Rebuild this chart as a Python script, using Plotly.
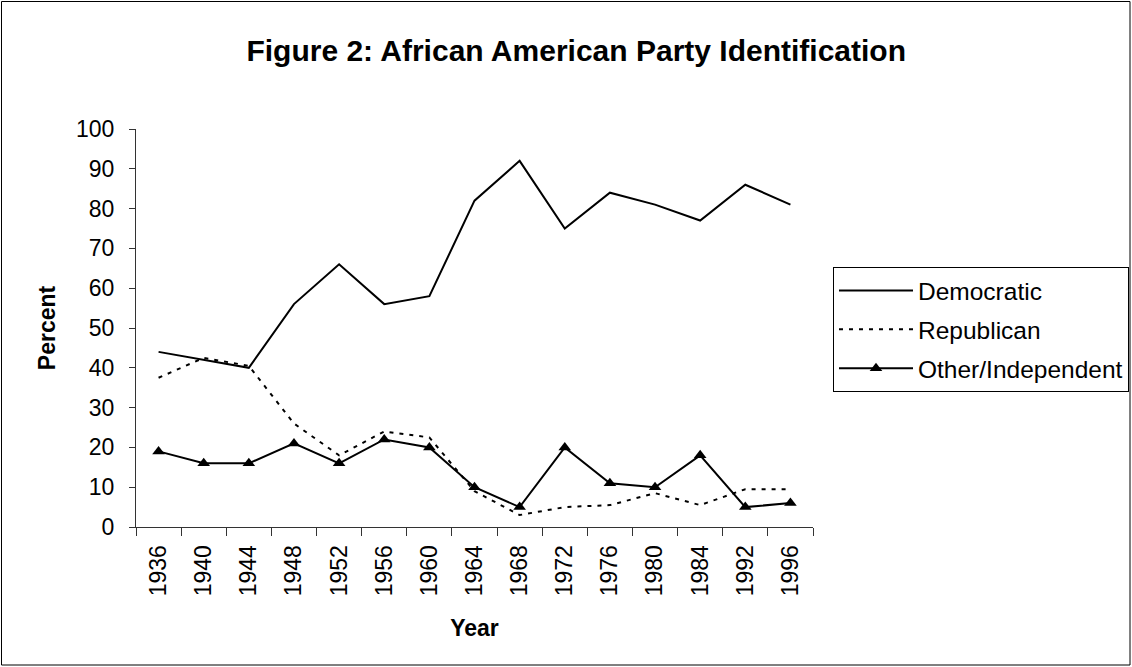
import plotly.graph_objects as go

years = ["1936", "1940", "1944", "1948", "1952", "1956", "1960", "1964",
         "1968", "1972", "1976", "1980", "1984", "1992", "1996"]
democratic = [44, 42, 40, 56, 66, 56, 58, 82, 92, 75, 84, 81, 77, 86, 81]
republican = [37.5, 42.5, 40.5, 26, 18, 24, 22.5, 9, 3, 5, 5.5, 8.5, 5.5, 9.5, 9.5]
other = [19, 16, 16, 21, 16, 22, 20, 10, 5, 20, 11, 10, 18, 5, 6]

FONT = "Liberation Sans, Arial, sans-serif"
W, H = 1132, 667
L, R, T, B = 136, 319, 129, 140
pw, ph = W - L - R, H - T - B

fig = go.Figure()
fig.add_trace(go.Scatter(x=years, y=democratic, name="Democratic", mode="lines",
                         legendgroup="d",
                         line=dict(color="black", width=2)))
fig.add_trace(go.Scatter(x=years, y=republican, name="Republican", mode="lines",
                         legendgroup="r",
                         line=dict(color="black", width=2, dash="4px,6px")))
fig.add_trace(go.Scatter(x=years, y=other, name="Other/Independent", mode="lines+markers",
                         legendgroup="o",
                         line=dict(color="black", width=2),
                         marker=dict(symbol="triangle-up", size=11, color="black")))


def px2paper_x(px):
    return (px - L) / pw


def px2paper_y(py):
    return (H - B - py) / ph


fig.update_layout(
    width=W, height=H,
    margin=dict(l=L, r=R, t=T, b=B, autoexpand=False),
    paper_bgcolor="white", plot_bgcolor="white",
    font=dict(family=FONT, size=23, color="black"),
    title=dict(text="<b>Figure 2: African American Party Identification</b>",
               font=dict(family=FONT, size=30, color="black"),
               x=0.509, xref="container", xanchor="center",
               y=1 - 50 / H, yref="container", yanchor="middle"),
    showlegend=True,
    legend=dict(x=833 / W, y=1 - 267 / H, xref="container", yref="container",
                xanchor="left", yanchor="top",
                bordercolor="black", borderwidth=1, bgcolor="white",
                font=dict(family=FONT, size=24.5, color="black"),
                tracegroupgap=4, itemwidth=74),
    xaxis=dict(type="category", range=[-0.5, 14.5], tickangle=-90,
               showline=True, linecolor="#333333", linewidth=1,
               ticks="outside", tickson="boundaries", ticklen=8, tickcolor="#333333",
               showgrid=False, zeroline=False, ticklabelstandoff=8,
               tickfont=dict(family=FONT, size=23),
               title=dict(text="<b>Year</b>", font=dict(family=FONT, size=23), standoff=24)),
    yaxis=dict(range=[0, 100], dtick=10, showline=True, linecolor="#333333", linewidth=1,
               ticks="outside", ticklen=6, tickcolor="#333333",
               showgrid=False, zeroline=False, ticklabelstandoff=10,
               tickfont=dict(family=FONT, size=23),
               title=dict(text="<b>Percent</b>", font=dict(family=FONT, size=23), standoff=13)),
    shapes=[dict(type="rect", xref="paper", yref="paper",
                 x0=px2paper_x(1.5), x1=px2paper_x(1130),
                 y0=px2paper_y(665), y1=px2paper_y(1.5),
                 line=dict(color="black", width=1), fillcolor="rgba(0,0,0,0)",
                 layer="below")],
)

fig.write_html("out.html", config={"displayModeBar": False},
               post_script="document.body.style.margin='0px';")
